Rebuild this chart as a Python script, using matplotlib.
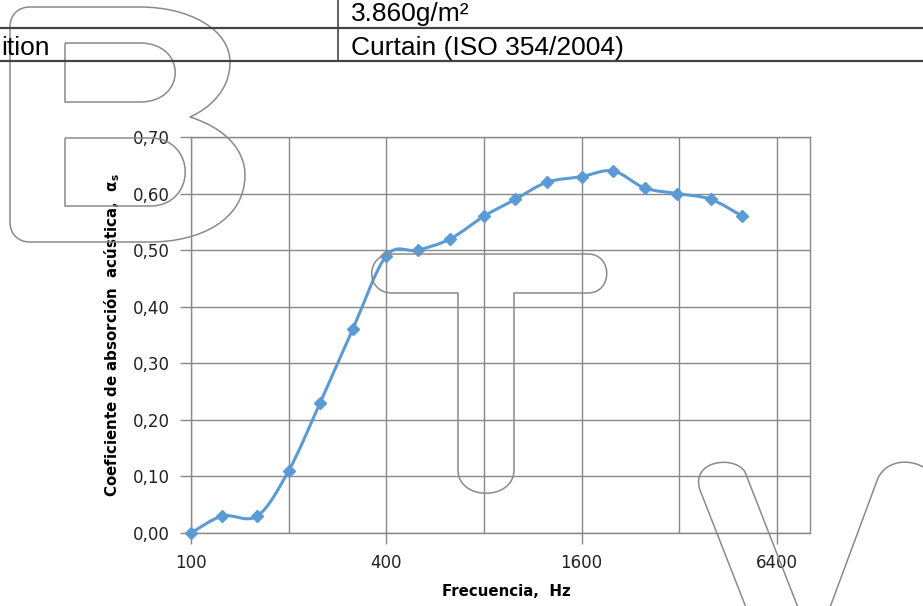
import numpy as np
import matplotlib
matplotlib.use('Agg')
import matplotlib.pyplot as plt
from matplotlib.path import Path
from matplotlib.patches import PathPatch
from matplotlib.ticker import FixedLocator, NullFormatter

# third-octave band centres (Hz) and sound absorption coefficient
freq = [100, 125, 160, 200, 250, 315, 400, 500, 630, 800,
        1000, 1250, 1600, 2000, 2500, 3150, 4000, 5000]
alpha = [0.00, 0.03, 0.03, 0.11, 0.23, 0.36, 0.49, 0.50, 0.52, 0.56,
         0.59, 0.62, 0.63, 0.64, 0.61, 0.60, 0.59, 0.56]

x_major = [100, 400, 1600, 6400]
x_minor = [200, 800, 3200]
y_ticks = [0.0, 0.1, 0.2, 0.3, 0.4, 0.5, 0.6, 0.7]

row1_value = '3.860g/m²'
row2_label = 'ition'
row2_value = 'Curtain (ISO 354/2004)'

line_color = '#5B9BD5'
grid_color = '#888888'

fig = plt.figure(figsize=(9.23, 6.06), dpi=100)
ax = fig.add_axes([191 / 923, 73 / 606, 619 / 923, 396 / 606])

ax.set_xscale('log', base=2)
ax.set_xlim(100, 8090)
ax.set_ylim(0, 0.7)

# smooth curve (Excel-like Catmull-Rom bezier) built from the data in log2 space
lx = np.log2(np.array(freq) / 100.0)
ly = np.array(alpha)
pts = np.column_stack([lx, ly])
n = len(pts)
verts = [pts[0]]
codes = [Path.MOVETO]
for i in range(n - 1):
    p0 = pts[i - 1] if i > 0 else pts[i]
    p1 = pts[i]
    p2 = pts[i + 1]
    p3 = pts[i + 2] if i + 2 < n else pts[i + 1]
    c1 = p1 + (p2 - p0) / 6.0
    c2 = p2 - (p3 - p1) / 6.0
    verts += [c1, c2, p2]
    codes += [Path.CURVE4] * 3
verts = np.array(verts)
verts[:, 0] = 100.0 * 2 ** verts[:, 0]
ax.add_patch(PathPatch(Path(verts, codes), transform=ax.transData, fill=False,
                       edgecolor=line_color, lw=2.2, zorder=3, clip_on=False))
ax.plot(freq, alpha, linestyle='none', marker='D', markersize=6,
        color=line_color, zorder=4, clip_on=False)

# ticks and grid
ax.xaxis.set_major_locator(FixedLocator(x_major))
ax.xaxis.set_minor_locator(FixedLocator(x_minor))
ax.xaxis.set_minor_formatter(NullFormatter())
ax.set_xticklabels([str(v) for v in x_major])
ax.set_yticks(y_ticks)
ax.set_yticklabels([f'{v:.2f}'.replace('.', ',') for v in y_ticks])
ax.tick_params(which='major', length=8, width=1, color=grid_color,
               labelsize=12, labelcolor='#222222', pad=7)
ax.tick_params(which='minor', length=0)
ax.grid(which='both', axis='x', color=grid_color, lw=1)
ax.grid(which='major', axis='y', color=grid_color, lw=1)
ax.set_axisbelow(True)
for s in ax.spines.values():
    s.set_color(grid_color)
    s.set_linewidth(1)

ax.set_xlabel('Frecuencia,  Hz', fontsize=10.8, fontweight='bold')
ax.xaxis.set_label_coords(0.509, -0.128)
ax.set_ylabel('Coeficiente de absorción  acústica,  α$_\\mathregular{s}$',
              fontsize=10.8, fontweight='bold')
ax.yaxis.set_label_coords(-0.112, 0.5)

# overlay in pixel coordinates: table fragment and watermark outline
ov = fig.add_axes([0, 0, 1, 1], zorder=5)
ov.set_xlim(0, 923)
ov.set_ylim(606, 0)
ov.axis('off')
ov.patch.set_alpha(0)

ov.plot([0, 923], [27.5, 27.5], color='#444444', lw=1.6)
ov.plot([0, 923], [60.5, 60.5], color='#444444', lw=1.6)
ov.plot([338, 338], [0, 60.5], color='#444444', lw=1.2)
ov.text(351, 21, row1_value, fontsize=19, family='Liberation Sans', va='baseline')
ov.text(1, 55, row2_label, fontsize=19, family='Liberation Sans', va='baseline')
ov.text(351, 55, row2_value, fontsize=19, family='Liberation Sans', va='baseline')

M, L, C, Z = Path.MOVETO, Path.LINETO, Path.CURVE4, Path.CLOSEPOLY
wm = '#8a8a8a'


def outline(vs, cs):
    ov.add_patch(PathPatch(Path(vs, cs), fill=False, edgecolor=wm, lw=1.1))


# B
outline([(140, 7), (190, 7), (230, 30), (230, 62), (230, 90), (210, 108), (190, 117),
         (225, 128), (245, 150), (245, 175), (245, 220), (200, 242), (150, 242),
         (30, 242), (18, 242), (10, 234), (10, 222), (10, 27), (10, 15), (18, 7), (30, 7),
         (140, 7)],
        [M, C, C, C, C, C, C, C, C, C, C, C, C, L, C, C, C, L, C, C, C, L])
outline([(65, 43), (140, 43), (187, 43), (187, 102), (140, 102), (65, 102), (65, 43)],
        [M, L, C, C, C, L, L])
outline([(65, 138), (150, 138), (197, 138), (197, 206), (150, 206), (65, 206), (65, 138)],
        [M, L, C, C, C, L, L])
# T
outline([(392, 254), (588, 254), (613, 254), (613, 293), (588, 293), (514, 293),
         (514, 470), (514, 501), (458, 501), (458, 470), (458, 293), (392, 293),
         (365, 293), (365, 254), (392, 254)],
        [M, L, C, C, C, L, L, C, C, C, L, L, C, C, C])
# V
outline([(747, 610), (700, 490), (690, 460), (735, 455), (745, 472), (799, 610)],
        [M, L, C, C, C, L])
outline([(829, 610), (878, 478), (888, 458), (915, 458), (930, 472)],
        [M, L, C, C, C])

fig.savefig('out.png', dpi=100)
